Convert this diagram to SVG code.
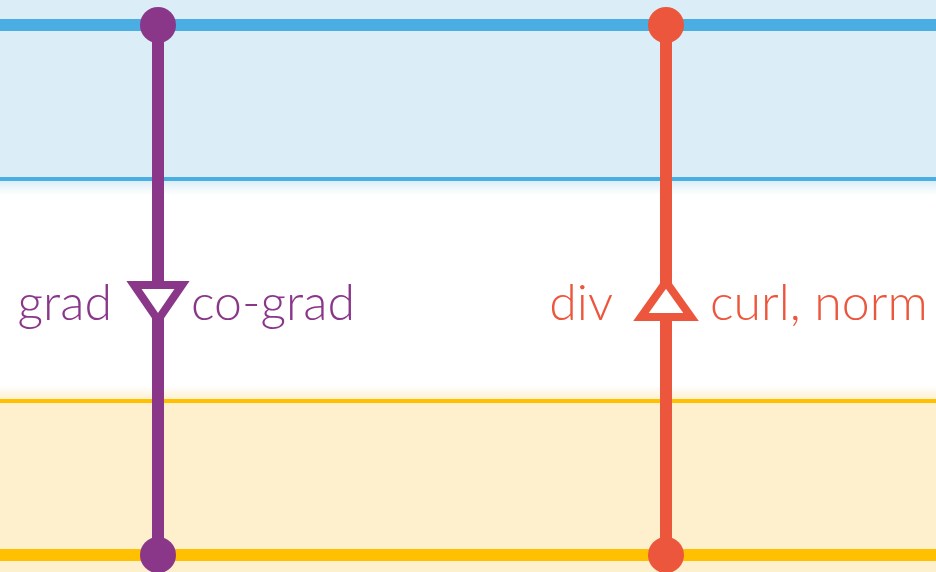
<svg xmlns="http://www.w3.org/2000/svg" width="936" height="572" viewBox="0 0 936 572">
  <defs>
    <linearGradient id="fadeBlue" x1="0" y1="0" x2="0" y2="1">
      <stop offset="0" stop-color="#dbeef7"/>
      <stop offset="1" stop-color="#ffffff"/>
    </linearGradient>
    <linearGradient id="fadeYellow" x1="0" y1="0" x2="0" y2="1">
      <stop offset="0" stop-color="#ffffff"/>
      <stop offset="1" stop-color="#fef0cc"/>
    </linearGradient>
  </defs>
  <style>
    .lbl { font-family: "Lato", "Open Sans", "Liberation Sans", sans-serif; font-weight: 300; font-size: 50px; }
    .purple { fill: #8a378a; }
    .orange { fill: #ec563c; }
    .stem { stroke-width: 12; fill: none; }
    .tri { fill: #ffffff; stroke-width: 8; stroke-linejoin: miter; }
  </style>

  <!-- background bands -->
  <g id="bands">
    <rect x="0" y="0" width="936" height="180" fill="#dbeef7"/>
    <rect x="0" y="180" width="936" height="220" fill="#ffffff"/>
    <rect x="0" y="181" width="936" height="14" fill="url(#fadeBlue)"/>
    <rect x="0" y="386" width="936" height="14" fill="url(#fadeYellow)"/>
    <rect x="0" y="401" width="936" height="171" fill="#fef0cc"/>
    <rect x="0" y="19" width="936" height="12" fill="#4aaee2"/>
    <rect x="0" y="177" width="936" height="4" fill="#4aaee2"/>
    <rect x="0" y="399" width="936" height="4" fill="#ffc000"/>
    <rect x="0" y="549" width="936" height="12" fill="#ffc000"/>
  </g>

  <!-- connectors -->
  <g id="connectors">
    <line class="stem" x1="158" y1="25" x2="158" y2="555" stroke="#8a378a"/>
    <line class="stem" x1="666" y1="25" x2="666" y2="555" stroke="#ec563c"/>
  </g>

  <g id="grad">
    <circle cx="158" cy="25" r="18" fill="#8a378a"/>
    <circle cx="158" cy="555" r="18" fill="#8a378a"/>
    <polygon class="tri" points="134,285 182,285 158,320" stroke="#8a378a"/>
    <text class="lbl purple" x="112" y="320" text-anchor="end">grad</text>
    <text class="lbl purple" x="191" y="320">co-grad</text>
  </g>

  <g id="div">
    <circle cx="666" cy="25" r="18" fill="#ec563c"/>
    <circle cx="666" cy="555" r="18" fill="#ec563c"/>
    <polygon class="tri" points="641,317 691,317 666,282" stroke="#ec563c"/>
    <text class="lbl orange" x="613" y="320" text-anchor="end">div</text>
    <text class="lbl orange" x="710" y="320">curl, norm</text>
  </g>
</svg>
